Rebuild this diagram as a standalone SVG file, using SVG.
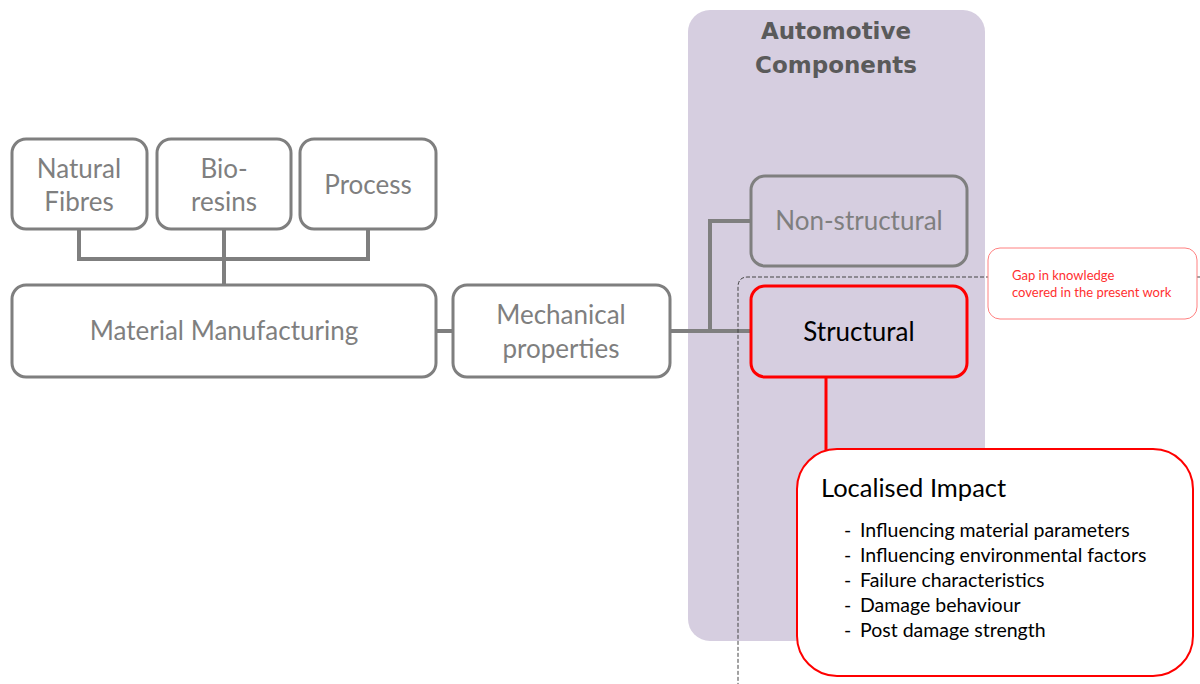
<svg xmlns="http://www.w3.org/2000/svg" width="1200" height="684" viewBox="0 0 1200 684">
<style>
.box{fill:#fff;stroke:#7f7f7f;stroke-width:3}
.gt{font-family:Lato,"Open Sans","Liberation Sans",sans-serif;font-size:26px;fill:#7f7f7f;text-anchor:middle}
.con{fill:none;stroke:#7f7f7f;stroke-width:4}
.bt{font-family:Lato,"Open Sans","Liberation Sans",sans-serif;fill:#000}
</style>
<rect x="688" y="10" width="297" height="631" rx="22" fill="#d6cee0"/>
<g id="title"><text x="836" y="39" font-family="'DejaVu Sans','Liberation Sans',sans-serif" font-weight="bold" font-size="23" fill="#5a5a5a" text-anchor="middle">Automotive</text><text x="836" y="73" font-family="'DejaVu Sans','Liberation Sans',sans-serif" font-weight="bold" font-size="23" fill="#5a5a5a" text-anchor="middle">Components</text></g>
<g id="connectors">
<path class="con" d="M79 229V259H368V229M224 229V285"/>
<path class="con" d="M436 331H453"/>
<path class="con" d="M670 331H751M710 331V221H751"/>
<path d="M826 377V450" stroke="#ff0000" stroke-width="3"/>
<path d="M1200 277H748Q738 277 738 287V684" fill="none" stroke="#444" stroke-width="1" stroke-dasharray="4,2"/>
</g>
<g id="natural-fibres"><rect class="box" x="12" y="139" width="135" height="90" rx="14"/><text class="gt" x="79" y="178">Natural</text><text class="gt" x="79" y="211">Fibres</text></g>
<g id="bio-resins"><rect class="box" x="157" y="139" width="134" height="90" rx="14"/><text class="gt" x="224" y="178">Bio-</text><text class="gt" x="224" y="211">resins</text></g>
<g id="process"><rect class="box" x="300" y="139" width="136" height="90" rx="14"/><text class="gt" x="368" y="194">Process</text></g>
<g id="material-manufacturing"><rect class="box" x="12" y="285" width="424" height="92" rx="14"/><text class="gt" x="224" y="340">Material Manufacturing</text></g>
<g id="mechanical-properties"><rect class="box" x="453" y="285" width="217" height="92" rx="14"/><text class="gt" x="561" y="324">Mechanical</text><text class="gt" x="561" y="358">properties</text></g>
<g id="non-structural"><rect x="751" y="176" width="216" height="90" rx="14" fill="none" stroke="#7f7f7f" stroke-width="3"/><text class="gt" x="859" y="230">Non-structural</text></g>
<g id="structural"><rect x="751" y="286" width="216" height="91" rx="14" fill="none" stroke="#ff0000" stroke-width="3"/><text class="bt" x="859" y="341" font-size="26" text-anchor="middle">Structural</text></g>
<g id="gap"><rect x="988" y="248" width="209" height="71" rx="12" fill="#fff" stroke="#ff8080" stroke-width="1"/><text x="1012" y="280" font-family="Lato,'Open Sans','Liberation Sans',sans-serif" font-size="13" fill="#ff3030">Gap in knowledge</text><text x="1012" y="297" font-family="Lato,'Open Sans','Liberation Sans',sans-serif" font-size="13" fill="#ff3030">covered in the present work</text></g>
<g id="localised-impact"><rect x="797" y="449" width="396" height="227" rx="40" fill="#fff" stroke="#ff0000" stroke-width="2"/>
<text class="bt" x="821" y="497" font-size="25.5">Localised Impact</text>
<g class="bt" font-size="19.5">
<text x="844" y="537">-</text><text x="860" y="537">Influencing material parameters</text>
<text x="844" y="562">-</text><text x="860" y="562">Influencing environmental factors</text>
<text x="844" y="587">-</text><text x="860" y="587">Failure characteristics</text>
<text x="844" y="612">-</text><text x="860" y="612">Damage behaviour</text>
<text x="844" y="637">-</text><text x="860" y="637">Post damage strength</text>
</g></g>
</svg>
